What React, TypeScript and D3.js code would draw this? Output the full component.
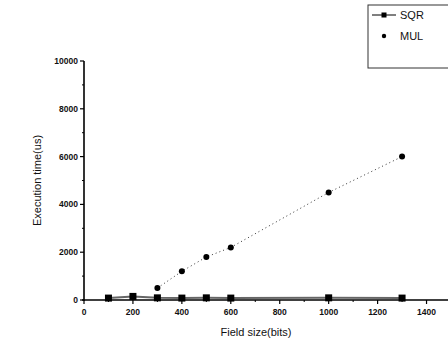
import React, { useEffect, useRef } from 'react';
import * as d3 from 'd3';

const fieldSizes = [100, 200, 300, 400, 500, 600, 1000, 1300];
const sqrValues = [80, 150, 90, 80, 90, 80, 90, 80];
const mulSizes = [300, 400, 500, 600, 1000, 1300];
const mulValues = [500, 1200, 1800, 2200, 4500, 6000];
const xTicks = [0, 200, 400, 600, 800, 1000, 1200, 1400];
const yTicks = [0, 2000, 4000, 6000, 8000, 10000];

const App: React.FC = () => {
  const svgRef = useRef<SVGSVGElement>(null);

  useEffect(() => {
    if (!svgRef.current) return;
    const svg = d3.select(svgRef.current);
    svg.selectAll('*').remove();

    const font = 'Liberation Sans, Arial, sans-serif';
    const x = d3.scaleLinear().domain([0, 1500]).range([84, 451]);
    const y = d3.scaleLinear().domain([0, 10000]).range([300, 61]);

    svg.append('rect').attr('width', 448).attr('height', 344).attr('fill', '#fff');

    // x axis
    const gx = svg.append('g').attr('transform', `translate(0,${y(0)})`);
    gx.append('line').attr('x1', x(0) - 2).attr('x2', 448).attr('stroke', '#000').attr('stroke-width', 1.6);
    gx.selectAll('line.major').data(xTicks).enter().append('line')
      .attr('x1', (d: number) => x(d)).attr('x2', (d: number) => x(d))
      .attr('y1', 0).attr('y2', 4).attr('stroke', '#000').attr('stroke-width', 1.2);
    gx.selectAll('line.minor').data(d3.range(100, 1500, 200)).enter().append('line')
      .attr('x1', (d: number) => x(d)).attr('x2', (d: number) => x(d))
      .attr('y1', 0).attr('y2', 2).attr('stroke', '#000').attr('stroke-width', 1);
    gx.selectAll('text').data(xTicks).enter().append('text')
      .attr('x', (d: number) => x(d)).attr('y', 15)
      .attr('text-anchor', 'middle').attr('font-family', font).attr('font-size', 8.5)
      .attr('font-weight', 'bold').attr('fill', '#111')
      .text((d: number) => String(d));

    // y axis
    const gy = svg.append('g').attr('transform', `translate(${x(0)},0)`);
    gy.append('line').attr('y1', y(0) + 1).attr('y2', y(10000)).attr('stroke', '#000').attr('stroke-width', 1.6);
    gy.selectAll('line.major').data(yTicks).enter().append('line')
      .attr('y1', (d: number) => y(d)).attr('y2', (d: number) => y(d))
      .attr('x1', -4).attr('x2', 0).attr('stroke', '#000').attr('stroke-width', 1.2);
    gy.selectAll('line.minor').data(d3.range(1000, 10000, 2000)).enter().append('line')
      .attr('y1', (d: number) => y(d)).attr('y2', (d: number) => y(d))
      .attr('x1', -2).attr('x2', 0).attr('stroke', '#000').attr('stroke-width', 1);
    gy.selectAll('text').data(yTicks).enter().append('text')
      .attr('x', -6).attr('y', (d: number) => y(d) + 3)
      .attr('text-anchor', 'end').attr('font-family', font).attr('font-size', 8.5)
      .attr('font-weight', 'bold').attr('fill', '#111')
      .text((d: number) => String(d));

    svg.append('text')
      .attr('x', 256).attr('y', 336).attr('text-anchor', 'middle')
      .attr('font-family', font).attr('font-size', 11).attr('fill', '#111')
      .text('Field size(bits)');
    svg.append('text')
      .attr('transform', `translate(41,${y(5000)}) rotate(-90)`)
      .attr('text-anchor', 'middle')
      .attr('font-family', font).attr('font-size', 11).attr('fill', '#111')
      .text('Execution time(us)');

    // SQR
    const sqrPts = fieldSizes.map((f, i) => [f, sqrValues[i]] as [number, number]);
    const line = d3.line<[number, number]>().x((d) => x(d[0])).y((d) => y(d[1]));
    svg.append('path').attr('d', line(sqrPts)).attr('fill', 'none')
      .attr('stroke', '#666').attr('stroke-width', 2);
    svg.selectAll('rect.sqr').data(sqrPts).enter().append('rect')
      .attr('x', (d: [number, number]) => x(d[0]) - 3.5).attr('y', (d: [number, number]) => y(d[1]) - 3.5)
      .attr('width', 7).attr('height', 7).attr('fill', '#000');

    // MUL
    const mulPts = mulSizes.map((f, i) => [f, mulValues[i]] as [number, number]);
    svg.append('path').attr('d', line(mulPts)).attr('fill', 'none')
      .attr('stroke', '#333').attr('stroke-width', 1).attr('stroke-dasharray', '1,3');
    svg.selectAll('circle.mul').data(mulPts).enter().append('circle')
      .attr('cx', (d: [number, number]) => x(d[0])).attr('cy', (d: [number, number]) => y(d[1]))
      .attr('r', 3).attr('fill', '#000');

    // legend
    const lg = svg.append('g');
    lg.append('rect').attr('x', 368).attr('y', 5).attr('width', 84).attr('height', 63)
      .attr('fill', '#fff').attr('stroke', '#333').attr('stroke-width', 1);
    lg.append('line').attr('x1', 372).attr('x2', 396).attr('y1', 15).attr('y2', 15)
      .attr('stroke', '#000').attr('stroke-width', 1);
    lg.append('rect').attr('x', 381.5).attr('y', 12.5).attr('width', 5).attr('height', 5).attr('fill', '#000');
    lg.append('circle').attr('cx', 384).attr('cy', 36).attr('r', 2.2).attr('fill', '#000');
    lg.append('text').attr('x', 400).attr('y', 19).attr('font-family', font).attr('font-size', 11)
      .attr('fill', '#111').text('SQR');
    lg.append('text').attr('x', 400).attr('y', 40).attr('font-family', font).attr('font-size', 11)
      .attr('fill', '#111').text('MUL');
  }, []);

  return (
    <svg
      ref={svgRef}
      width={448}
      height={344}
      style={{ position: 'absolute', left: 0, top: 0, display: 'block' }}
    />
  );
};

export default App;
